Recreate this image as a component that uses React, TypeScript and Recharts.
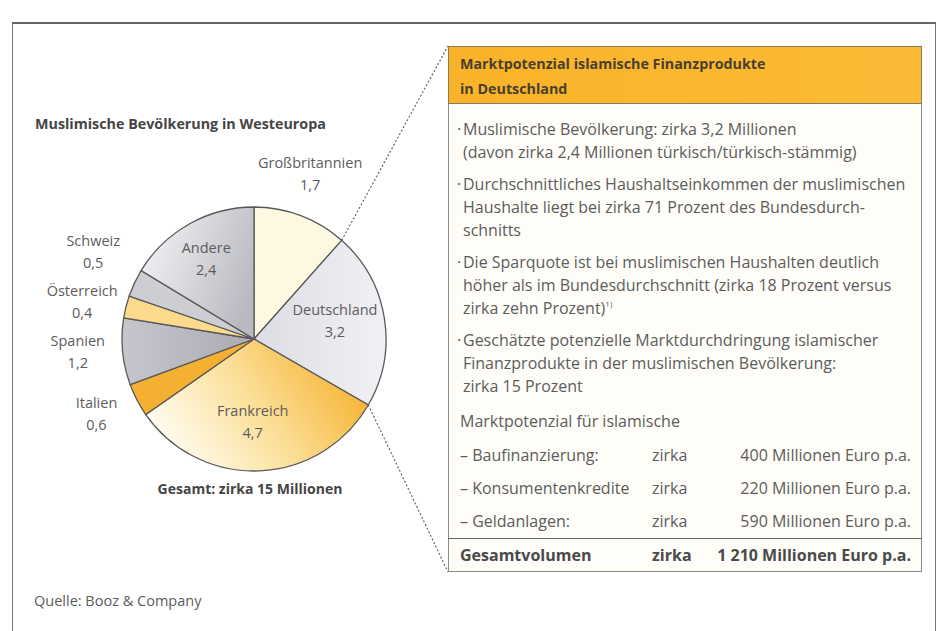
import React from 'react';
import { PieChart, Pie, Cell } from 'recharts';

// ---------- data ----------
const countries = ['Großbritannien', 'Deutschland', 'Frankreich', 'Italien', 'Spanien', 'Österreich', 'Schweiz', 'Andere'];
const populations = [1.7, 3.2, 4.7, 0.6, 1.2, 0.4, 0.5, 2.4];
const labelInside = [false, true, true, false, false, false, false, true];
const sliceFills = [
  '#fdf8e2',
  'url(#gDeutsch)',
  'url(#gFrank)',
  '#f4b030',
  'url(#gSpanien)',
  '#fcd98b',
  '#cdcdd4',
  'url(#gAndere)',
];

const pieTitle = 'Muslimische Bevölkerung in Westeuropa';
const pieTotal = 'Gesamt: zirka 15 Millionen';
const source = 'Quelle: Booz & Company';

const tableTitle = ['Marktpotenzial islamische Finanzprodukte', 'in Deutschland'];
const bullets: string[][] = [
  ['Muslimische Bevölkerung: zirka 3,2 Millionen', '(davon zirka 2,4 Millionen türkisch/türkisch-stämmig)'],
  ['Durchschnittliches Haushaltseinkommen der muslimischen', 'Haushalte liegt bei zirka 71 Prozent des Bundesdurch-', 'schnitts'],
  ['Die Sparquote ist bei muslimischen Haushalten deutlich', 'höher als im Bundesdurchschnitt (zirka 18 Prozent versus', 'zirka zehn Prozent)'],
  ['Geschätzte potenzielle Marktdurchdringung islamischer', 'Finanzprodukte in der muslimischen Bevölkerung:', 'zirka 15 Prozent'],
];
const potentialIntro = 'Marktpotenzial für islamische';
const potentialItems = ['– Baufinanzierung:', '– Konsumentenkredite', '– Geldanlagen:'];
const potentialValues = ['400', '220', '590'];
const totalLabel = 'Gesamtvolumen';
const totalValue = '1 210';
const approx = 'zirka';
const unit = 'Millionen Euro p.a.';

// ---------- layout ----------
const W = 942;
const H = 631;
const CX = 249;
const CY = 334;
const R = 132;
const TABLE_L = 448;
const TABLE_R = 922;
const TABLE_T = 46;
const TABLE_B = 572;
const FONT = "'Open Sans', 'Noto Sans', sans-serif";
const TXT = '#5c5c5c';
const RAD = Math.PI / 180;
const OUT_R = R + 40;
const IN_R = R * 0.66;
const MIN_GAP = 50;

const fmt = (v: number) => v.toFixed(1).replace('.', ',');

// label anchor positions derived from the same angular layout the pie uses (clockwise from 12 o'clock)
const labelPos = (() => {
  const total = populations.reduce((a, b) => a + b, 0);
  let acc = 0;
  const pos = populations.map((v, i) => {
    const mid = 90 - (acc + v / 2) / total * 360;
    acc += v;
    const r = labelInside[i] ? IN_R : OUT_R;
    return { x: CX + r * Math.cos(-mid * RAD), y: CY + r * Math.sin(-mid * RAD) };
  });
  // spread crowded outside labels on each side
  for (const side of [-1, 1]) {
    const idx = pos.map((p, i) => i).filter((i) => !labelInside[i] && Math.sign(pos[i].x - CX) === side);
    for (let iter = 0; iter < 20; iter++) {
      idx.sort((a, b) => pos[a].y - pos[b].y);
      for (let k = 0; k < idx.length - 1; k++) {
        const a = pos[idx[k]];
        const b = pos[idx[k + 1]];
        const gap = b.y - a.y;
        if (gap < MIN_GAP) {
          const d = (MIN_GAP - gap) / 2;
          a.y -= d;
          b.y += d;
        }
      }
    }
  }
  return pos;
})();

const renderLabel = (p: any) => {
  const { cx, cy, outerRadius, index, startAngle, endAngle } = p;
  const { x, y } = labelPos[index];
  const lines: React.ReactNode[] = [];
  if (index === 1) {
    const x1 = cx + outerRadius * Math.cos(-startAngle * RAD);
    const y1 = cy + outerRadius * Math.sin(-startAngle * RAD);
    const x2 = cx + outerRadius * Math.cos(-endAngle * RAD);
    const y2 = cy + outerRadius * Math.sin(-endAngle * RAD);
    lines.push(
      <line key="a" x1={x1} y1={y1} x2={TABLE_L} y2={TABLE_T} stroke="#666" strokeWidth={1.2} strokeDasharray="2 2" />,
      <line key="b" x1={x2} y1={y2} x2={TABLE_L} y2={TABLE_B} stroke="#666" strokeWidth={1.2} strokeDasharray="2 2" />
    );
  }
  return (
    <g key={`lbl-${index}`}>
      {lines}
      <text x={x} y={y - 11} textAnchor="middle" dominantBaseline="central" fontFamily={FONT} fontSize={14.5} fill={TXT}>
        {countries[index]}
      </text>
      <text x={x} y={y + 11} textAnchor="middle" dominantBaseline="central" fontFamily={FONT} fontSize={14.5} fill={TXT}>
        {fmt(populations[index])}
      </text>
    </g>
  );
};

const data = countries.map((name, i) => ({ name, value: populations[i] }));

const abs = (left: number, top: number, extra: React.CSSProperties = {}): React.CSSProperties => ({
  position: 'absolute',
  left,
  top,
  whiteSpace: 'nowrap',
  fontFamily: FONT,
  fontSize: 16,
  lineHeight: '20px',
  color: TXT,
  ...extra,
});

export default function App() {
  const bulletLines: { text: string; y: number; first: boolean; last: boolean; bi: number }[] = [];
  let y = 129;
  bullets.forEach((b, bi) => {
    b.forEach((t, li) => {
      bulletLines.push({ text: t, y, first: li === 0, last: li === b.length - 1, bi });
      y += li === b.length - 1 ? 32 : 23;
    });
  });
  const introY = 421;
  const rowY0 = 455;
  const rowStep = 33;
  const sepY = 538;
  const totalY = 555;

  return (
    <div style={{ position: 'absolute', left: 0, top: 0, width: W, height: H, background: '#fff', overflow: 'hidden' }}>
      <svg width={0} height={0} style={{ position: 'absolute' }}>
        <defs>
          <linearGradient id="gFrank" x1="0" y1="0.6" x2="1" y2="0.2">
            <stop offset="0%" stopColor="#fffdf2" />
            <stop offset="45%" stopColor="#fbe09a" />
            <stop offset="100%" stopColor="#f5ac22" />
          </linearGradient>
          <linearGradient id="gAndere" x1="0" y1="0.2" x2="1" y2="0.6">
            <stop offset="0%" stopColor="#f3f3f6" />
            <stop offset="100%" stopColor="#b9b9c1" />
          </linearGradient>
          <linearGradient id="gDeutsch" x1="0" y1="0" x2="1" y2="0">
            <stop offset="0%" stopColor="#dcdce3" />
            <stop offset="100%" stopColor="#f1f1f5" />
          </linearGradient>
          <linearGradient id="gSpanien" x1="0" y1="0" x2="1" y2="0">
            <stop offset="0%" stopColor="#c6c6cd" />
            <stop offset="100%" stopColor="#aaaab3" />
          </linearGradient>
        </defs>
      </svg>

      {/* outer frame */}
      <div style={{ position: 'absolute', left: 12, top: 22, width: 922, height: 640, borderLeft: '1.5px solid #777', borderRight: '1.5px solid #777', borderTop: '2px solid #666' }} />

      <div style={{ position: 'absolute', left: 0, top: 0 }}>
        <PieChart width={W} height={H}>
          <Pie
            data={data}
            dataKey="value"
            nameKey="name"
            cx={CX}
            cy={CY}
            outerRadius={R}
            startAngle={90}
            endAngle={-270}
            stroke="#5a5a5a"
            strokeWidth={1.3}
            label={renderLabel}
            labelLine={false}
            isAnimationActive={false}
          >
            {data.map((d, i) => (
              <Cell key={d.name} fill={sliceFills[i]} stroke="#5a5a5a" strokeWidth={1.3} />
            ))}
          </Pie>
        </PieChart>
      </div>

      {/* pie title, total, source */}
      <div style={abs(35, 114, { fontSize: 14.3, fontWeight: 700, color: '#454545' })}>{pieTitle}</div>
      <div style={{ ...abs(90, 479, { fontSize: 14, fontWeight: 700, color: '#454545' }), width: 320, textAlign: 'center' }}>{pieTotal}</div>
      <div style={abs(34, 591, { fontSize: 14.5 })}>{source}</div>

      {/* table */}
      <div style={{ position: 'absolute', left: TABLE_L, top: TABLE_T, width: TABLE_R - TABLE_L, height: TABLE_B - TABLE_T, boxSizing: 'border-box', border: '1.5px solid #8a8a8a', background: '#fefdf8' }} />
      <div style={{ position: 'absolute', left: TABLE_L, top: TABLE_T, width: TABLE_R - TABLE_L, height: 58, boxSizing: 'border-box', border: '1.5px solid #8a7a5a', background: 'linear-gradient(90deg, #f9b32a, #fbbb36)' }} />
      {tableTitle.map((t, i) => (
        <div key={t} style={abs(460, 54 + i * 25, { fontSize: 14.3, fontWeight: 700, color: '#4a3f2c' })}>{t}</div>
      ))}
      {bulletLines.map((l, i) => (
        <React.Fragment key={i}>
          {l.first && <div style={abs(457, l.y - 10)}>·</div>}
          <div style={abs(463, l.y - 10)}>
            {l.text}
            {l.bi === 2 && l.last && <sup style={{ fontSize: 8, verticalAlign: 'top', lineHeight: '12px' }}>1)</sup>}
          </div>
        </React.Fragment>
      ))}
      <div style={abs(460, introY - 10)}>{potentialIntro}</div>
      {potentialItems.map((t, i) => (
        <React.Fragment key={t}>
          <div style={abs(460, rowY0 + i * rowStep - 10)}>{t}</div>
          <div style={abs(652, rowY0 + i * rowStep - 10)}>{approx}</div>
          <div style={{ ...abs(680, rowY0 + i * rowStep - 10), width: 231, textAlign: 'right' }}>{potentialValues[i]} {unit}</div>
        </React.Fragment>
      ))}
      <div style={{ position: 'absolute', left: TABLE_L, top: sepY, width: TABLE_R - TABLE_L, height: 0, borderTop: '1.5px solid #666' }} />
      <div style={abs(460, totalY - 10, { fontWeight: 700, color: '#4a4a4a' })}>{totalLabel}</div>
      <div style={abs(652, totalY - 10, { fontWeight: 700, color: '#4a4a4a' })}>{approx}</div>
      <div style={{ ...abs(660, totalY - 10, { fontWeight: 700, color: '#4a4a4a' }), width: 251, textAlign: 'right' }}>{totalValue} {unit}</div>
    </div>
  );
}
